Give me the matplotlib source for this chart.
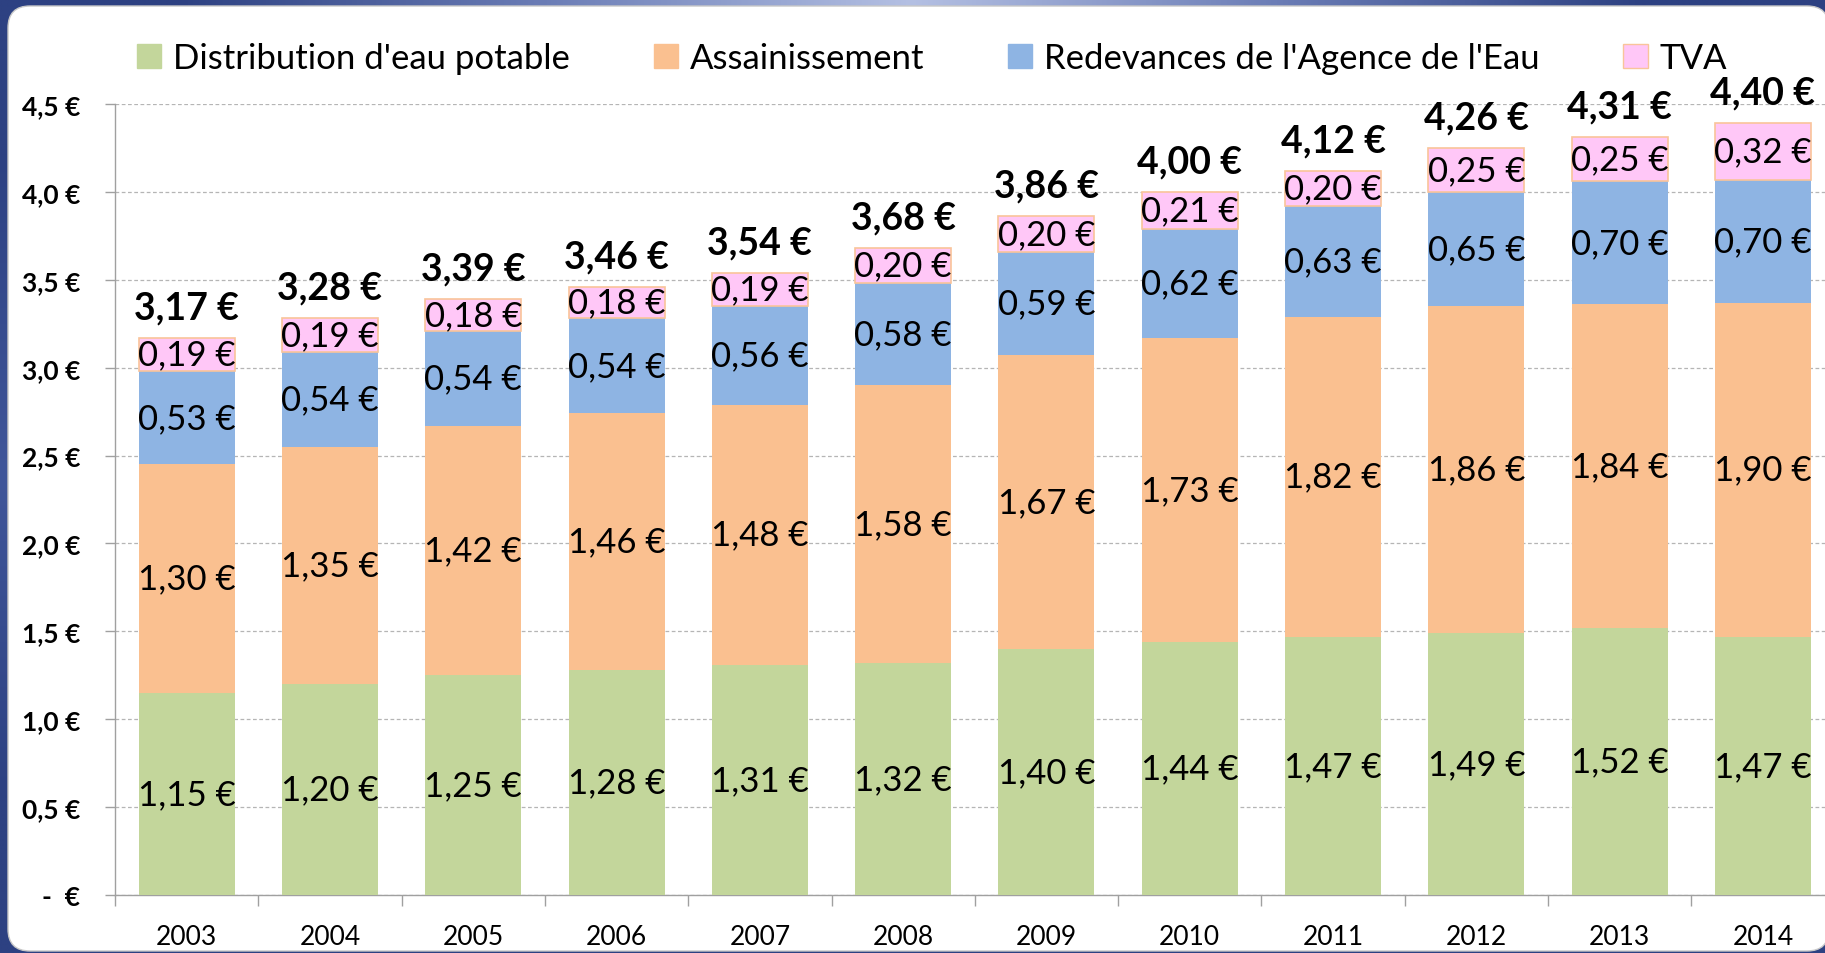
import matplotlib
matplotlib.use("Agg")
import matplotlib.pyplot as plt
import numpy as np
from matplotlib.patches import FancyBboxPatch, Patch
from matplotlib.colors import to_rgb

plt.rcParams['font.family'] = ['Lato', 'DejaVu Sans']

years = ["2003", "2004", "2005", "2006", "2007", "2008", "2009", "2010", "2011", "2012", "2013", "2014"]
distribution = [1.15, 1.20, 1.25, 1.28, 1.31, 1.32, 1.40, 1.44, 1.47, 1.49, 1.52, 1.47]
assainissement = [1.30, 1.35, 1.42, 1.46, 1.48, 1.58, 1.67, 1.73, 1.82, 1.86, 1.84, 1.90]
redevances = [0.53, 0.54, 0.54, 0.54, 0.56, 0.58, 0.59, 0.62, 0.63, 0.65, 0.70, 0.70]
tva = [0.19, 0.19, 0.18, 0.18, 0.19, 0.20, 0.20, 0.21, 0.20, 0.25, 0.25, 0.32]
totals = [3.17, 3.28, 3.39, 3.46, 3.54, 3.68, 3.86, 4.00, 4.12, 4.26, 4.31, 4.40]
series_names = ["Distribution d'eau potable", "Assainissement", "Redevances de l'Agence de l'Eau", "TVA"]
colors = ["#c3d69b", "#fac090", "#8eb4e3", "#ffc7f7"]

W, H = 1825, 954
fig = plt.figure(figsize=(W / 100, H / 100), dpi=100)

# background frame
bg = fig.add_axes([0, 0, 1, 1], zorder=0)
bg.set_xlim(0, W)
bg.set_ylim(H, 0)
bg.axis('off')
dark = np.array(to_rgb("#2d4182"))
mid = np.array(to_rgb("#6b7db6"))
light = np.array(to_rgb("#b4c0e3"))
side = np.array(to_rgb("#40569a"))
img = np.array([
    [dark, mid, light, mid, dark],
    [side, side, side, side, side],
    [dark, dark, dark, dark, dark],
])
bg.imshow(img, extent=(0, W, H, 0), aspect='auto', interpolation='bilinear')
panel = FancyBboxPatch((8, 7), 1821, 945, boxstyle="round,pad=0,rounding_size=22",
                       facecolor="white", edgecolor="#c8c8c8", linewidth=1)
bg.add_patch(panel)

# main chart
ax_left = 115 / W
ax_bottom = (H - 896) / H
ax_height = (896 - 105) / H
ax_width = 12 * 143.3 / W
ax = fig.add_axes([ax_left, ax_bottom, ax_width, ax_height], zorder=1)
ax.patch.set_alpha(0)

x = np.arange(len(years))
bw = 0.67
data = [distribution, assainissement, redevances, tva]
bottom = np.zeros(len(years))
fmt = lambda v: f"{v:.2f}".replace('.', ',') + " €"
for i, (vals, c) in enumerate(zip(data, colors)):
    vals = np.array(vals)
    if i == 3:
        bars = ax.bar(x, vals, bw, bottom=bottom, color=c, edgecolor="#f9c49a", linewidth=1.2, zorder=3)
    else:
        bars = ax.bar(x, vals, bw, bottom=bottom, color=c, linewidth=0, zorder=3)
    ax.bar_label(bars, labels=[fmt(v) for v in vals], label_type='center', fontsize=25, color='black', zorder=4)
    bottom = bottom + vals

for xi, t, top in zip(x, totals, bottom):
    ax.annotate(fmt(t), (xi, top), xytext=(0, 22), textcoords='offset points',
                ha='center', va='center', fontsize=27, fontweight='bold', zorder=5)

ax.set_xlim(-0.5, 11.5)
ax.set_ylim(0, 4.5)
yt = np.arange(0, 4.51, 0.5)
ax.set_yticks(yt)
ax.set_yticklabels(["-  €"] + [f"{v:.1f}".replace('.', ',') + " €" for v in yt[1:]],
                   fontsize=19, fontweight='bold')
ax.tick_params(axis='y', length=7, width=1, color='#a0a0a0', pad=18)
ax.grid(axis='y', color='#b5b5b5', linestyle=(0, (3, 2)), linewidth=0.9, zorder=0)
ax.set_axisbelow(True)

ax.set_xticks(np.arange(-0.5, 12, 1))
ax.set_xticklabels([])
ax.set_xticks(x, minor=True)
ax.set_xticklabels(years, minor=True, fontsize=19)
ax.tick_params(axis='x', which='major', length=8, width=1, color='#a0a0a0')
ax.tick_params(axis='x', which='minor', length=0, pad=21)

for s in ['top', 'right']:
    ax.spines[s].set_visible(False)
for s in ['left', 'bottom']:
    ax.spines[s].set_color('#a0a0a0')
    ax.spines[s].set_linewidth(1)

handles = [Patch(facecolor=c, edgecolor=("#f9c49a" if i == 3 else c)) for i, c in enumerate(colors)]
leg = fig.legend(handles, series_names, loc='center', bbox_to_anchor=(932 / W, 1 - 59 / H),
                 ncol=4, frameon=False, fontsize=25, handlelength=0.7, handleheight=0.7,
                 handletextpad=0.35, columnspacing=2.4)
leg.set_zorder(6)

fig.savefig("out.png", dpi=100)
